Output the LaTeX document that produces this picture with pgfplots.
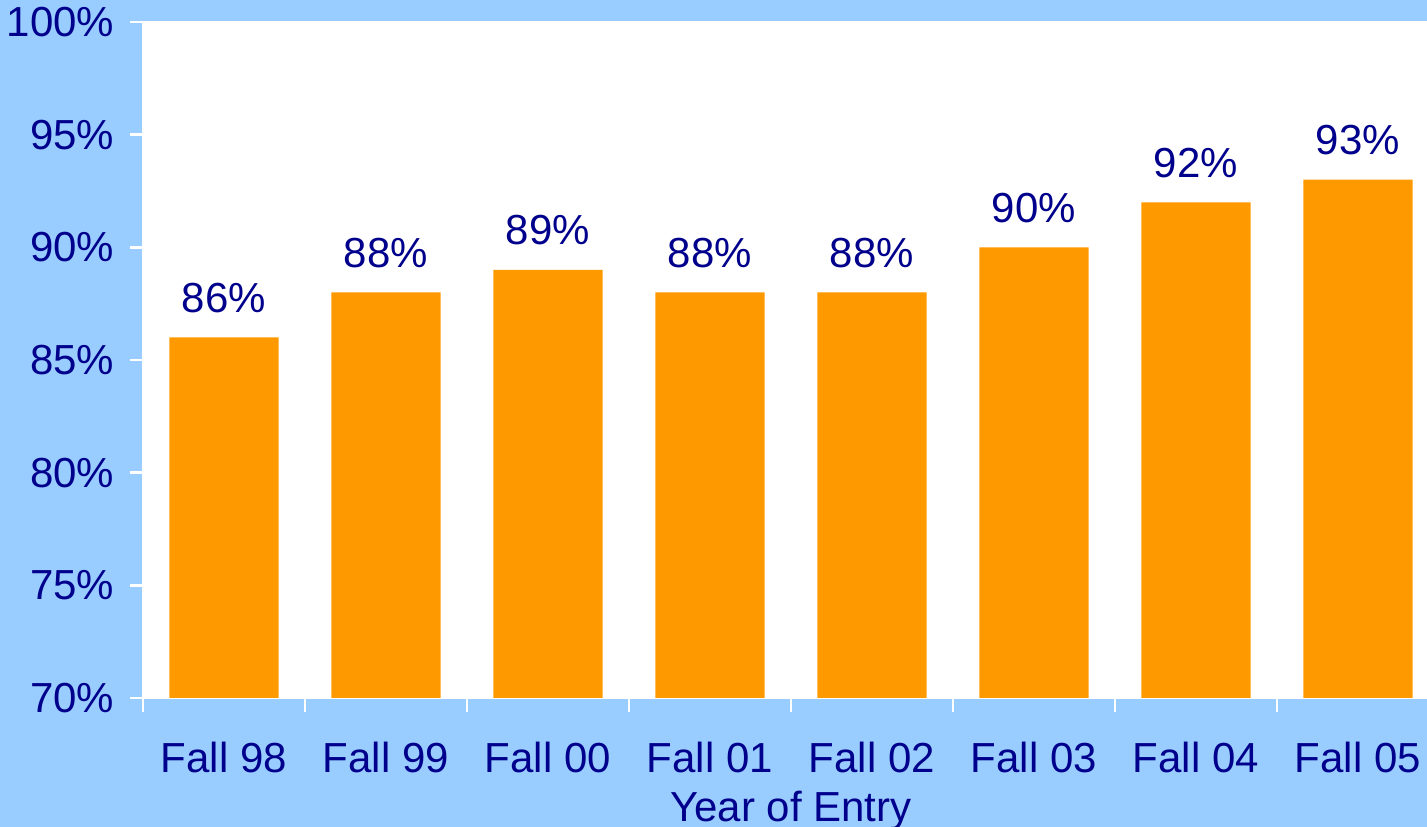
\documentclass[border=0pt]{standalone}
\usepackage{fontspec}
\setmainfont{Liberation Sans}
\usepackage{pgfplots}
\pgfplotsset{compat=1.18}
\definecolor{bgblue}{RGB}{153,204,255}
\definecolor{barorange}{RGB}{255,153,0}
\definecolor{navytext}{RGB}{0,0,140}

\begin{document}
\begin{tikzpicture}
% background of the whole picture (1 px = 0.3pt)
\fill[bgblue] (0pt,0pt) rectangle (428.1pt,248.1pt);
\path[use as bounding box] (0pt,0pt) rectangle (428.1pt,248.1pt);
\begin{axis}[
    at={(42.9pt,38.7pt)}, anchor=south west,
    scale only axis,
    width=388.8pt, height=202.8pt,
    axis background/.style={fill=white},
    axis line style={white, line width=0.8pt},
    ybar,
    bar width=0.675,
    xmin=-0.5, xmax=7.5,
    ymin=70, ymax=100,
    xtick={0,...,7},
    xticklabels={Fall 98,Fall 99,Fall 00,Fall 01,Fall 02,Fall 03,Fall 04,Fall 05},
    minor xtick={-0.5,0.5,...,7.5},
    ytick={70,75,...,100},
    yticklabels={70\%,75\%,80\%,85\%,90\%,95\%,100\%},
    tick align=outside,
    xtick pos=bottom, ytick pos=left,
    major x tick style={draw=none},
    minor x tick style={white, line width=0.8pt},
    minor tick length=4.2pt,
    major y tick style={white, line width=0.8pt},
    major tick length=3.9pt,
    /pgf/number format/assume math mode=true,
    every tick label/.append style={font=\fontsize{12.6}{15}\selectfont, text=navytext},
    xticklabel style={anchor=base, yshift=-18.6pt},
    yticklabel style={anchor=east, xshift=-1.2pt},
    xlabel={Year of Entry},
    xlabel style={at={(axis description cs:0.5,0)}, anchor=base, yshift=-37.2pt,
        font=\fontsize{12.6}{15}\selectfont, text=navytext},
    nodes near coords={\pgfmathprintnumber{\pgfplotspointmeta}\%},
    every node near coord/.append style={font=\fontsize{12.6}{15}\selectfont,
        text=navytext, anchor=base, yshift=7.5pt},
]
\addplot[fill=barorange, draw=none] coordinates {
    (0,86) (1,88) (2,89) (3,88) (4,88) (5,90) (6,92) (7,93)
};
\end{axis}
\end{tikzpicture}
\end{document}
